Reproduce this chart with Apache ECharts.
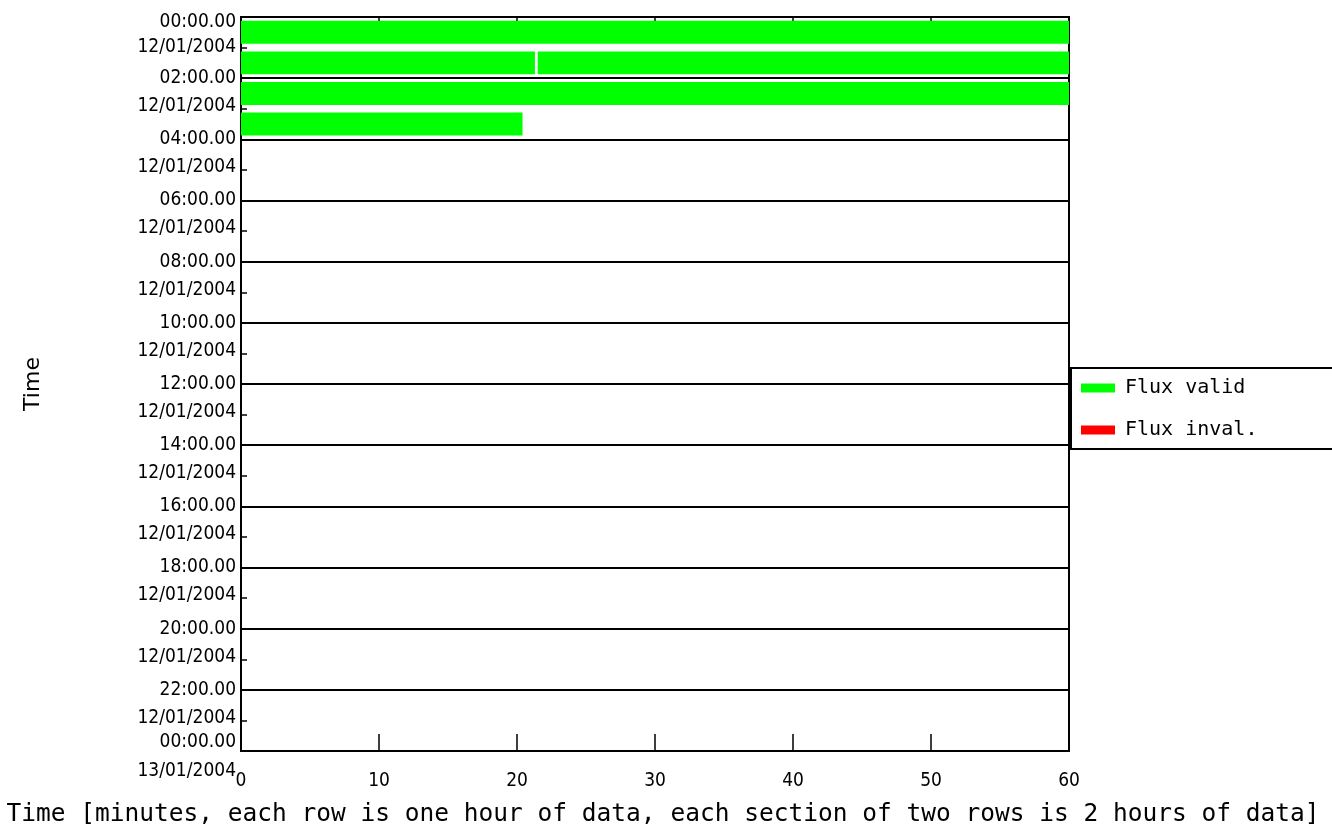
<!DOCTYPE html>
<html>
<head>
<meta charset="utf-8">
<script src="https://cdn.jsdelivr.net/npm/echarts@6/dist/echarts.min.js"></script>
<style>html,body{margin:0;padding:0;background:#fff}#c{width:1332px;height:834px}</style>
</head>
<body>
<div id="c"></div>
<script>
// Data: each segment lies in one hourly row (0 = 00:00-01:00 on 12/01/2004)
const segRow   = [0, 1, 1, 2, 3];
const segStart = [0, 0, 21.5, 0, 0];
const segEnd   = [60, 21.3, 60, 60, 20.4];
const segValid = [1, 1, 1, 1, 1];
const xTicks = [0, 10, 20, 30, 40, 50, 60];
const yHours = [0, 2, 4, 6, 8, 10, 12, 14, 16, 18, 20, 22, 24];
const dateLabels = ['12/01/2004', '13/01/2004'];
const seriesNames = ['Flux valid', 'Flux inval.'];
const seriesColors = ['#00ff00', '#ff0000'];

const TICKFONT = 'DejaVu Sans Condensed';
const TEXTFONT = 'DejaVu Sans Mono';
const chart = echarts.init(document.getElementById('c'));

function pad(n){ return (n < 10 ? '0' : '') + n; }

function makeData(valid){
  const d = [];
  for (let i = 0; i < segRow.length; i++) {
    if (segValid[i] === valid) d.push([segStart[i], segEnd[i], segRow[i]]);
  }
  return d;
}

function renderItem(params, api){
  const x0 = api.value(0), x1 = api.value(1), r = api.value(2);
  const p0 = api.coord([x0, r + 0.5]);
  const p1 = api.coord([x1, r + 0.5]);
  const h = api.size([0, 1])[1] * 0.75;
  const rect = echarts.graphic.clipRectByRect({
    x: p0[0], y: p0[1] - h / 2, width: p1[0] - p0[0], height: h
  }, {
    x: params.coordSys.x, y: params.coordSys.y,
    width: params.coordSys.width, height: params.coordSys.height
  });
  return rect && { type: 'rect', shape: rect, style: { fill: api.visual('color') } };
}

const yBase = {
  type: 'value', min: 0, max: 24, interval: 2, inverse: true, position: 'left'
};

chart.setOption({
  animation: false,
  backgroundColor: '#fff',
  textStyle: { fontFamily: TICKFONT, color: '#000' },
  grid: { left: 241, right: 263, top: 17, bottom: 83, outerBoundsMode: 'none',
    show: true, borderColor: '#000', borderWidth: 2, backgroundColor: 'transparent' },
  legend: {
    orient: 'vertical', left: 1071, top: 368,
    data: seriesNames.map((n, i) => ({ name: n, icon: 'rect', itemStyle: { color: seriesColors[i] } })),
    itemWidth: 34, itemHeight: 9, itemGap: 22,
    borderColor: '#000', borderWidth: 2, borderRadius: 0,
    padding: [10, 80, 9, 10], backgroundColor: '#fff',
    textStyle: { fontFamily: TEXTFONT, fontSize: 20, color: '#000', padding: [0, 0, 0, 5] }
  },
  xAxis: [{
    type: 'value', min: 0, max: 60, interval: 10, position: 'bottom',
    name: 'Time [minutes, each row is one hour of data, each section of two rows is 2 hours of data]',
    nameLocation: 'middle', nameGap: 51,
    nameTextStyle: { fontFamily: TEXTFONT, fontSize: 24.5, color: '#000', padding: [0, 0, 0, 16] },
    axisLine: { show: true, onZero: false, lineStyle: { color: '#000', width: 2 } },
    axisTick: { show: true, inside: true, length: 17, lineStyle: { color: '#000', width: 1.5 } },
    axisLabel: { show: true, margin: 21, fontSize: 19, color: '#000', fontFamily: TICKFONT,
      showMinLabel: true, showMaxLabel: true, formatter: v => String(v) },
    splitLine: { show: false }
  }, {
    type: 'value', min: 0, max: 60, interval: 10, position: 'top',
    axisLine: { show: true, onZero: false, lineStyle: { color: '#000', width: 2 } },
    axisTick: { show: true, inside: true, length: 5, lineStyle: { color: '#000', width: 1.5 } },
    axisLabel: { show: false }, splitLine: { show: false }
  }],
  yAxis: [Object.assign({}, yBase, {
    name: 'Time', nameLocation: 'middle', nameGap: 197, nameRotate: 90,
    nameTextStyle: { fontFamily: 'DejaVu Sans', fontSize: 22, color: '#000' },
    axisLine: { show: true, onZero: false, lineStyle: { color: '#000', width: 2 } },
    axisTick: { show: false, inside: true },
    minorTick: { show: true, splitNumber: 2, length: 6, lineStyle: { color: '#000', width: 1.5 } },
    axisLabel: {
      show: true, margin: 5, fontSize: 19, color: '#000', fontFamily: TICKFONT,
      align: 'right', verticalAlign: 'middle', showMinLabel: true, showMaxLabel: true,
      formatter: v => {
        const t = pad(v % 24) + ':00.00';
        if (v === 0) return '{first|' + t + '}';
        if (v === 24) return '{last|' + t + '}';
        return t;
      },
      rich: {
        first: { fontSize: 19, fontFamily: TICKFONT, color: '#000', padding: [10, 0, 0, 0] },
        last: { fontSize: 19, fontFamily: TICKFONT, color: '#000', padding: [0, 0, 18, 0] }
      }
    },
    splitLine: { show: true, lineStyle: { color: '#000', width: 2 } }
  }), Object.assign({}, yBase, {
    axisLine: { show: false, onZero: false },
    axisTick: { show: false },
    axisLabel: {
      show: true, margin: 5, fontSize: 19, color: '#000', fontFamily: TICKFONT,
      align: 'right', verticalAlign: 'top', lineHeight: 56, showMinLabel: true, showMaxLabel: true,
      formatter: v => {
        const d = dateLabels[v >= 24 ? 1 : 0];
        if (v === 0) return '{first|' + d + '}';
        if (v === 24) return '{last|' + d + '}';
        return d;
      },
      rich: {
        first: { fontSize: 19, fontFamily: TICKFONT, color: '#000', lineHeight: 60 },
        last: { fontSize: 19, fontFamily: TICKFONT, color: '#000', lineHeight: 40 }
      }
    },
    splitLine: { show: false }
  })],
  series: [0, 1].map(i => ({
    name: seriesNames[i], type: 'custom', renderItem: renderItem,
    itemStyle: { color: seriesColors[i] },
    encode: { x: [0, 1], y: 2 },
    data: makeData(i === 0 ? 1 : 0)
  }))
});
</script>
</body>
</html>
